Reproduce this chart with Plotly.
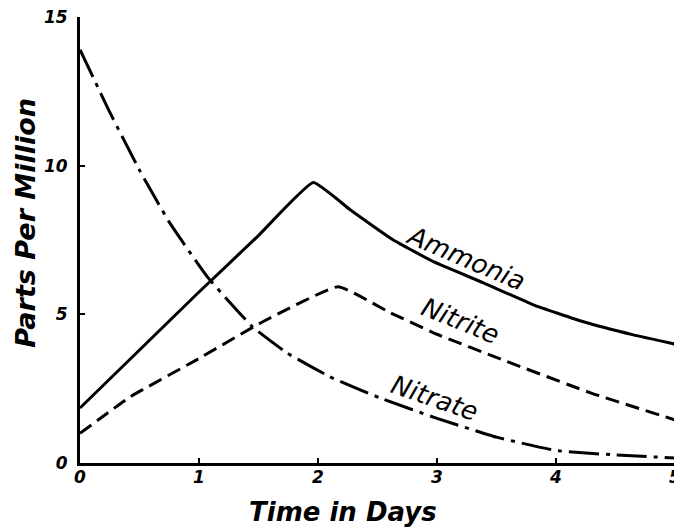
import plotly.graph_objects as go

# Data
ammonia_x = [0, 0.5, 1.0, 1.5, 1.96, 2.27, 2.63, 2.97, 3.39, 3.81, 4.23, 4.65, 5.0]
ammonia_y = [1.85, 3.8, 5.75, 7.65, 9.43, 8.52, 7.51, 6.77, 6.06, 5.32, 4.75, 4.31, 4.0]

nitrite_x = [0, 0.42, 0.98, 1.54, 2.17, 2.61, 3.0, 3.55, 4.29, 5.0]
nitrite_y = [1.0, 2.22, 3.47, 4.76, 5.93, 5.05, 4.33, 3.47, 2.36, 1.45]

nitrate_x = [0, 0.25, 0.5, 0.75, 1.07, 1.45, 1.74, 2.10, 2.52, 3.0, 3.5, 4.0, 4.5, 5.0]
nitrate_y = [13.9, 11.8, 9.85, 8.1, 6.26, 4.58, 3.70, 2.90, 2.19, 1.5, 0.87, 0.42, 0.27, 0.17]

x_ticks = [0, 1, 2, 3, 4, 5]
y_ticks = [0, 5, 10, 15]

labels = ["Ammonia", "Nitrite", "Nitrate"]
label_x = [3.24, 3.2, 2.98]
label_y = [6.9, 4.78, 2.2]
label_angle = [23, 22, 19]

x_title = "Time in Days"
y_title = "Parts Per Million"

FONT = "DejaVu Sans"
fig = go.Figure()
fig.add_trace(go.Scatter(x=ammonia_x, y=ammonia_y, mode="lines", name="Ammonia",
                         line=dict(color="black", width=3, shape="spline", smoothing=0.35)))
fig.add_trace(go.Scatter(x=nitrite_x, y=nitrite_y, mode="lines", name="Nitrite",
                         line=dict(color="black", width=3, dash="14px,7px", shape="spline", smoothing=0.35)))
fig.add_trace(go.Scatter(x=nitrate_x, y=nitrate_y, mode="lines", name="Nitrate",
                         line=dict(color="black", width=3, dash="30px,7px,4px,7px", shape="spline", smoothing=0.35)))

for t, lx, ly, a in zip(labels, label_x, label_y, label_angle):
    fig.add_annotation(x=lx, y=ly, text=f"<i>{t}</i>", showarrow=False, textangle=a,
                       font=dict(family=FONT, size=26, color="black"))

fig.add_annotation(xref="paper", yref="paper", x=0.442, y=-0.11, text=f"<b><i>{x_title}</i></b>",
                   showarrow=False, xanchor="center", yanchor="middle",
                   font=dict(family=FONT, size=26, color="black"))
fig.add_annotation(xref="paper", yref="paper", x=-0.093, y=0.538, text=f"<b><i>{y_title}</i></b>",
                   showarrow=False, textangle=-90, xanchor="center", yanchor="middle",
                   font=dict(family=FONT, size=27, color="black"))

# page body has an 8px margin, so the figure is sized to fill the 682x529 window
fig.update_layout(
    width=674, height=521,
    margin=dict(l=72, r=7, t=9, b=66),
    paper_bgcolor="white", plot_bgcolor="white",
    showlegend=False,
    font=dict(family=FONT, color="black"),
)
fig.update_xaxes(range=[0, 5], showgrid=False, zeroline=False, automargin=False,
                 showline=True, linecolor="black", linewidth=3,
                 tickvals=x_ticks, ticktext=[f"<i><b>{v}</b></i>" for v in x_ticks],
                 ticks="inside", ticklen=5, tickwidth=2, tickcolor="black",
                 ticklabelstandoff=-3, ticklabeloverflow="allow",
                 tickfont=dict(size=17, family=FONT))
fig.update_yaxes(range=[0, 15], showgrid=False, zeroline=False, automargin=False,
                 showline=True, linecolor="black", linewidth=3,
                 tickvals=y_ticks, ticktext=[f"<i><b>{v}</b></i>" for v in y_ticks],
                 ticks="inside", ticklen=5, tickwidth=2, tickcolor="black",
                 ticklabelstandoff=6, ticklabeloverflow="allow",
                 tickfont=dict(size=17, family=FONT))

fig.write_html("out.html")
